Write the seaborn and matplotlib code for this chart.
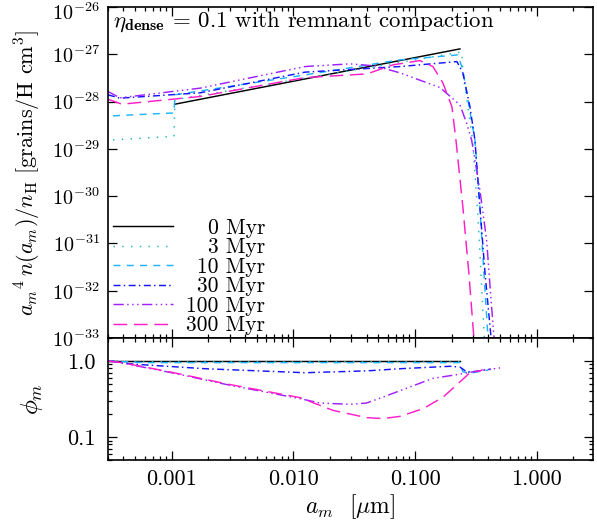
import numpy as np
import matplotlib
matplotlib.use("Agg")
import matplotlib.pyplot as plt
import matplotlib.ticker as mticker
import matplotlib.transforms as mtrans
import seaborn as sns

# ---------------- data ----------------
labels = ["0 Myr", "3 Myr", "10 Myr", "30 Myr", "100 Myr", "300 Myr"]

# top panel: a_m [um] and a^4 n(a)/n_H
a_0 = [1.064e-3, 0.2339]
f_0 = [8.8e-29, 1.30e-27]

a_3 = [3.30e-4, 9.68e-4, 1.045e-3, 1.064e-3, 1.245e-2, 0.2427, 0.2472, 0.2716, 0.2972,
       0.3105, 0.3243, 0.3373, 0.3475, 0.3597, 0.3707, 0.385]
f_3 = [1.55e-29, 1.82e-29, 1.82e-29, 1.10e-28, 3.13e-28, 1.12e-27, 4.0e-28, 7.8e-29, 1.55e-29,
       3.11e-30, 5.9e-31, 1.19e-31, 2.39e-32, 4.57e-33, 1.06e-33, 2e-34]

a_10 = [3.30e-4, 9.68e-4, 1.045e-3, 1.064e-3, 1.245e-2, 7.52e-2, 0.2249, 0.2472, 0.2716,
        0.3105, 0.3412, 0.3681, 0.3972, 0.41]
f_10 = [5.0e-29, 5.7e-29, 5.7e-29, 1.39e-28, 3.66e-28, 7.62e-28, 9.7e-28, 4.68e-28, 1.10e-28,
        1.55e-29, 5.9e-31, 2.39e-32, 1.06e-33, 2e-34]

a_30 = [3.00e-4, 3.76e-4, 1.71e-3, 1.245e-2, 7.52e-2, 0.2208, 0.2472, 0.2825, 0.3105,
        0.3412, 0.3758, 0.4207, 0.435]
f_30 = [1.39e-28, 1.18e-28, 1.53e-28, 4.19e-28, 5.50e-28, 7.01e-28, 4.05e-28, 7.8e-29,
        1.55e-29, 5.9e-31, 2.39e-32, 1.06e-33, 2e-34]

a_100 = [3.00e-4, 3.76e-4, 1.71e-3, 1.245e-2, 2.92e-2, 4.69e-2, 7.52e-2, 0.1603, 0.2339,
         0.2655, 0.2917, 0.3412, 0.3873, 0.4256, 0.4457, 0.46]
f_100 = [1.63e-28, 1.20e-28, 1.92e-28, 5.50e-28, 6.27e-28, 5.69e-28, 4.05e-28, 1.98e-28,
         8.5e-29, 3.49e-29, 1.55e-29, 1.35e-30, 1.19e-31, 4.57e-33, 1.06e-33, 2e-34]

a_300 = [3.00e-4, 3.90e-4, 1.71e-3, 1.245e-2, 4.03e-2, 6.58e-2, 0.1096, 0.1403, 0.1694,
         0.2009, 0.2168, 0.2472, 0.2767, 0.3041, 0.315]
f_300 = [1.12e-28, 8.8e-29, 1.28e-28, 3.21e-28, 3.85e-28, 5.97e-28, 7.36e-28, 5.50e-28,
         2.48e-28, 7.8e-29, 1.55e-29, 5.9e-31, 2.39e-32, 1.06e-33, 2e-34]

# bottom panel: phi_m
pa_0 = [3.0e-4, 0.2339]
phi_0 = [1.0, 1.0]

pa_3 = [3.0e-4, 5.0e-4, 0.2339, 0.2472, 0.2825, 0.37]
phi_3 = [1.0, 0.975, 0.975, 0.72, 0.69, 0.745]

pa_10 = [3.0e-4, 6.0e-4, 0.2339, 0.2472, 0.2825, 0.40]
phi_10 = [1.0, 0.95, 0.95, 0.72, 0.69, 0.76]

pa_30 = [3.2e-4, 3.9e-4, 5.3e-4, 1.88e-3, 1.245e-2, 4.0e-2, 7.52e-2, 0.1936, 0.2339,
         0.2655, 0.2972, 0.42]
phi_30 = [1.0, 0.94, 0.90, 0.79, 0.70, 0.74, 0.79, 0.85, 0.83, 0.72, 0.72, 0.78]

pa_100 = [3.0e-4, 3.9e-4, 1.0e-3, 3.0e-3, 1.13e-2, 1.66e-2, 2.92e-2, 4.0e-2, 5.48e-2,
          9.08e-2, 0.140, 0.22, 0.30, 0.499]
phi_100 = [1.0, 0.94, 0.70, 0.48, 0.32, 0.28, 0.269, 0.28, 0.336, 0.455, 0.59, 0.66, 0.72, 0.81]

pa_300 = [3.0e-4, 3.9e-4, 1.0e-3, 3.0e-3, 1.13e-2, 2.12e-2, 4.0e-2, 5.48e-2, 7.52e-2,
          0.1167, 0.1706, 0.2339, 0.2825, 0.341, 0.36]
phi_300 = [1.0, 0.95, 0.71, 0.49, 0.33, 0.224, 0.18, 0.175, 0.187, 0.236, 0.336, 0.53,
           0.70, 0.74, 0.77]

# ---------------- style ----------------
plt.rcParams.update({
    "font.family": "serif",
    "font.serif": ["cmr10", "DejaVu Serif"],
    "mathtext.fontset": "cm",
    "axes.unicode_minus": False,
    "axes.formatter.use_mathtext": True,
    "axes.linewidth": 1.2,
})

colors = ["black", "#20B8B8", "#1EB4FF", "#1414FF", "#A020FF", "#FF1EC8"]
dashes = [None, (1.0, 5.0), (4.8, 4.3), (4.8, 2.2, 1.0, 2.4),
          (7.0, 2.4, 1.0, 2.4, 1.0, 2.4, 1.0, 2.4), (9.4, 4.6)]

top_a = [a_0, a_3, a_10, a_30, a_100, a_300]
top_f = [f_0, f_3, f_10, f_30, f_100, f_300]
bot_a = [pa_0, pa_3, pa_10, pa_30, pa_100, pa_300]
bot_p = [phi_0, phi_3, phi_10, phi_30, phi_100, phi_300]

W, H = 597, 530
fig = plt.figure(figsize=(W / 100, H / 100), dpi=100)
L, R = 108, 593
ax1 = fig.add_axes([L / W, 1 - 338 / H, (R - L) / W, (338 - 7) / H])
ax2 = fig.add_axes([L / W, 1 - 460 / H, (R - L) / W, (460 - 338) / H], sharex=ax1)

lw = 1.05
handles = []
for i in range(6):
    ls = "-" if dashes[i] is None else (0, dashes[i])
    sns.lineplot(x=top_a[i], y=top_f[i], ax=ax1, color=colors[i], linewidth=lw,
                 linestyle=ls, sort=False, estimator=None, legend=False)
    sns.lineplot(x=bot_a[i], y=bot_p[i], ax=ax2, color=colors[i], linewidth=lw,
                 linestyle=ls, sort=False, estimator=None, legend=False)
    handles.append(plt.Line2D([], [], color=colors[i], linewidth=lw, linestyle=ls))

for ax in (ax1, ax2):
    ax.set_xscale("log")
    ax.set_yscale("log")
    ax.tick_params(which="both", direction="in", top=True, right=True, width=0.9)
    ax.tick_params(which="major", length=6.5)
    ax.tick_params(which="minor", length=3.2)

ax1.set_xlim(3.0e-4, 2.9)
ax1.set_ylim(1e-33, 1e-26)
ax2.set_ylim(0.05, 2.0)

ytick_top = [1e-33, 1e-32, 1e-31, 1e-30, 1e-29, 1e-28, 1e-27, 1e-26]
ax1.yaxis.set_major_locator(mticker.FixedLocator(ytick_top))
ax1.yaxis.set_minor_locator(mticker.NullLocator())
ax1.yaxis.set_major_formatter(mticker.LogFormatterMathtext())
ax1.tick_params(axis="x", labelbottom=False)
ax1.tick_params(axis="y", labelsize=14.5, pad=6)

ax2.xaxis.set_major_locator(mticker.FixedLocator([1e-3, 1e-2, 1e-1, 1.0]))
ax2.xaxis.set_minor_locator(mticker.LogLocator(base=10, subs=np.arange(2, 10), numticks=20))
ax2.xaxis.set_major_formatter(mticker.FuncFormatter(lambda v, p: f"{v:.3f}"))
ax2.yaxis.set_major_locator(mticker.FixedLocator([0.1, 1.0]))
ax2.yaxis.set_major_formatter(mticker.FixedFormatter(["0.1", "1.0"]))
ax2.yaxis.set_minor_locator(mticker.LogLocator(base=10, subs=np.arange(2, 10), numticks=20))
ax2.yaxis.set_minor_formatter(mticker.NullFormatter())
ax2.tick_params(axis="both", labelsize=16)
ax2.tick_params(axis="x", pad=7)
ax2.tick_params(axis="y", pad=9)

ax1.set_ylabel(r"$a_m{}^4\,n(a_m)/n_{\rm H}$ [grains/H cm$^3$]", fontsize=16, labelpad=6)
ax2.set_ylabel(r"$\phi_m$", fontsize=18, labelpad=16)
ax2.set_xlabel(r"$a_m$  [$\mu$m]", fontsize=17, labelpad=2)

ax1.text(0.01, 0.955, r"$\eta_{\mathbf{dense}}$ = 0.1 with remnant compaction",
         transform=ax1.transAxes, fontsize=16.5, va="center", ha="left")

leg = ax1.legend(handles, labels, loc="upper left", bbox_to_anchor=(0.010, 0.362),
                 frameon=False, fontsize=15.5, handlelength=2.8, handletextpad=0.6,
                 labelspacing=0.0, borderpad=0, borderaxespad=0)
fig.canvas.draw()
renderer = fig.canvas.get_renderer()
widths = [t.get_window_extent(renderer).width for t in leg.get_texts()]
maxw = max(widths)
for t, w in zip(leg.get_texts(), widths):
    t.set_position((maxw - w, 0))

# nudge the topmost tick label down a little so it stays inside the figure
top_tick = ax1.yaxis.get_major_ticks()[-1]
top_tick.label1.set_transform(top_tick.label1.get_transform() +
                              mtrans.ScaledTranslation(0, -4 / 100, fig.dpi_scale_trans))

fig.savefig("out.png", dpi=100)
